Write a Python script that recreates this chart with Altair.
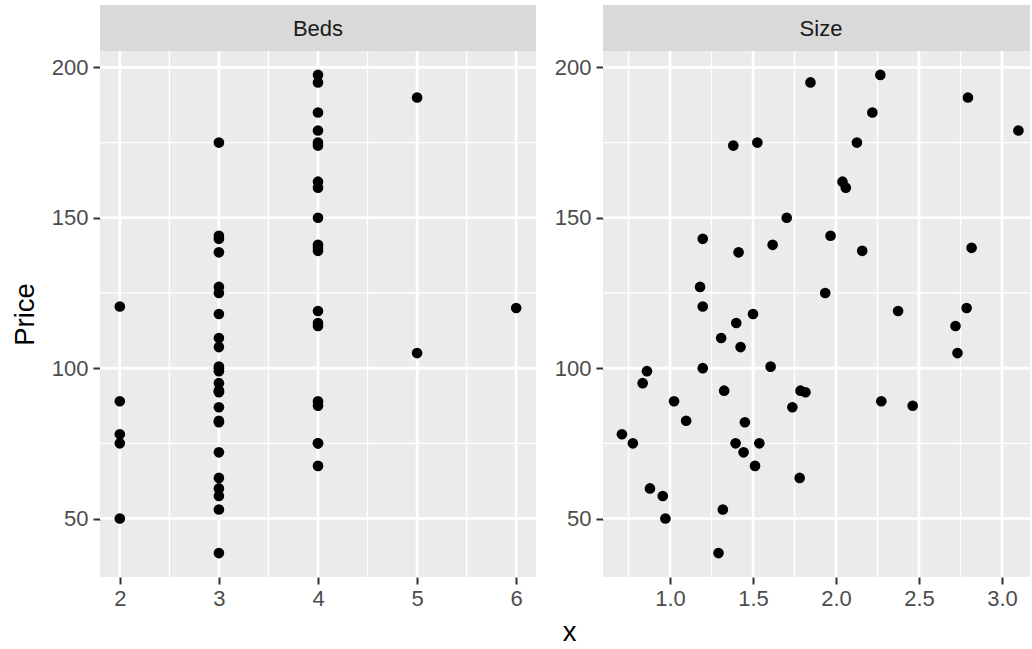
import altair as alt
import pandas as pd

# ---- data ----
size = [1.846, 2.267, 2.795, 2.219, 3.099, 1.381, 1.526, 2.126, 2.039, 2.059,
        1.703, 1.197, 1.967, 1.618, 1.413, 2.158, 2.817, 1.181, 1.935, 1.197,
        2.787, 1.500, 2.374, 1.399, 2.720, 1.308, 1.425, 2.732, 1.197, 1.606,
        0.861, 0.835, 1.326, 1.786, 1.816, 1.024, 2.273, 2.462, 1.737, 1.097,
        1.451, 0.710, 0.776, 1.395, 1.538, 1.443, 1.512, 1.781, 0.879, 0.956,
        1.318, 0.972, 1.292]
price = [195, 197.5, 190, 185, 179, 174, 175, 175, 162, 160,
         150, 143, 144, 141, 138.5, 139, 140, 127, 125, 120.5,
         120, 118, 119, 115, 114, 110, 107, 105, 100, 100.5,
         99, 95, 92.5, 92.5, 92, 89, 89, 87.5, 87, 82.5,
         82, 78, 75, 75, 75, 72, 67.5, 63.5, 60, 57.5,
         53, 50, 38.5]
beds = [4, 4, 5, 4, 4, 4, 3, 4, 4, 4,
        4, 3, 3, 4, 3, 4, 4, 3, 3, 2,
        6, 3, 4, 4, 4, 3, 3, 5, 3, 3,
        3, 3, 3, 3, 3, 2, 4, 4, 3, 3,
        3, 2, 2, 4, 4, 3, 4, 3, 3, 3,
        3, 2, 3]

beds_major = [2, 3, 4, 5, 6]
beds_minor = [2.5, 3.5, 4.5, 5.5]
size_major = [1.0, 1.5, 2.0, 2.5, 3.0]
size_minor = [0.75, 1.25, 1.75, 2.25, 2.75]
price_major = [50, 100, 150, 200]
price_minor = [75, 125, 175]

df = pd.DataFrame({"Beds": beds, "Size": size, "Price": price})

FONT = "Liberation Sans"
H = 526
W_L = 436
W_R = 427
STRIP = 46

y_scale = alt.Scale(domain=[30.55, 205.45], nice=False, zero=False)


def panel(var, xdom, xmaj, xmin, width, label, label_x, left):
    xs = alt.Scale(domain=xdom, nice=False, zero=False)
    if left:
        xaxis = alt.Axis(values=xmaj, grid=False, domain=False, tickSize=7, tickWidth=2,
                         tickColor="#333333", labelFont=FONT, labelFontSize=22,
                         labelColor="#4D4D4D", labelPadding=4, title="")
        yaxis = alt.Axis(values=price_major, grid=False, domain=False, tickSize=7, tickWidth=2,
                         tickColor="#333333", labelFont=FONT, labelFontSize=22,
                         labelColor="#4D4D4D", labelPadding=5, title="Price",
                         titleFont=FONT, titleFontSize=27.5, titleColor="black",
                         titleFontWeight="normal", titleAngle=270, titleX=-67,
                         titleY=H / 2, titleAlign="center", titleBaseline="alphabetic")
    else:
        xaxis = alt.Axis(values=xmaj, format=".1f", grid=False, domain=False, tickSize=7,
                         tickWidth=2, tickColor="#333333", labelFont=FONT, labelFontSize=22,
                         labelColor="#4D4D4D", labelPadding=4, title="x",
                         titleFont=FONT, titleFontSize=27.5, titleColor="black",
                         titleFontWeight="normal", titleX=-34, titleY=63,
                         titleAlign="center", titleBaseline="alphabetic")
        yaxis = alt.Axis(values=price_major, grid=False, domain=False, tickSize=7, tickWidth=2,
                         tickColor="#333333", labelFont=FONT, labelFontSize=22,
                         labelColor="#4D4D4D", labelPadding=5, title="")

    vmin = alt.Chart(pd.DataFrame({"v": xmin})).mark_rule(color="white", strokeWidth=1.35).encode(
        x=alt.X("v:Q", scale=xs, axis=xaxis))
    vmaj = alt.Chart(pd.DataFrame({"v": xmaj})).mark_rule(color="white", strokeWidth=2.7).encode(
        x=alt.X("v:Q", scale=xs, axis=xaxis))
    hmin = alt.Chart(pd.DataFrame({"h": price_minor})).mark_rule(color="white", strokeWidth=1.35).encode(
        y=alt.Y("h:Q", scale=y_scale, axis=yaxis))
    hmaj = alt.Chart(pd.DataFrame({"h": price_major})).mark_rule(color="white", strokeWidth=2.7).encode(
        y=alt.Y("h:Q", scale=y_scale, axis=yaxis))
    pts = alt.Chart(df).mark_circle(size=113, color="black", opacity=1).encode(
        x=alt.X(f"{var}:Q", scale=xs, axis=xaxis),
        y=alt.Y("Price:Q", scale=y_scale, axis=yaxis))
    strip_df = pd.DataFrame({"t": [label]})
    strip = alt.Chart(strip_df).mark_rect(color="#D9D9D9").encode(
        x=alt.value(0), x2=alt.value(width), y=alt.value(-STRIP), y2=alt.value(0))
    strip_txt = alt.Chart(strip_df).mark_text(font=FONT, fontSize=22, color="#1A1A1A",
                                              align="center", baseline="middle").encode(
        x=alt.value(label_x), y=alt.value(-STRIP / 2 + 1), text="t:N")
    return alt.layer(hmin, vmin, hmaj, vmaj, pts, strip, strip_txt).properties(width=width, height=H)


left = panel("Beds", [1.8, 6.2], beds_major, beds_minor, W_L, "Beds", W_L / 2, True)
right = panel("Size", [0.596, 0.596 + W_R / 165.96], size_major, size_minor, W_R, "Size", 218, False)

chart = alt.hconcat(left, right, spacing=16).configure_view(
    fill="#EBEBEB", strokeWidth=0
).properties(padding={"left": 11, "top": 5, "right": 0, "bottom": 0})

chart.save("out.html", embed_options={"renderer": "svg", "actions": False})
